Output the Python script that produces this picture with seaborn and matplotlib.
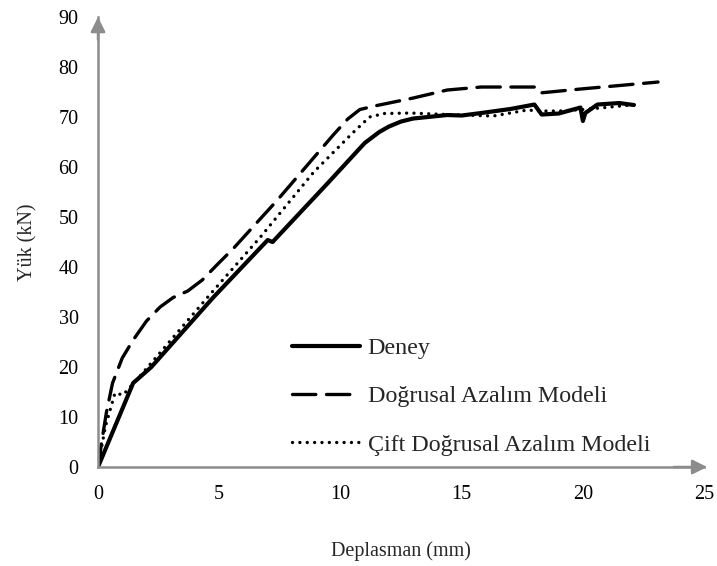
import matplotlib
matplotlib.use('Agg')
import matplotlib.pyplot as plt
import seaborn as sns

# Deney (experiment)
deney_x = [0, 1.45, 2.2, 4.75, 7.0, 7.2, 9.5, 11.0, 11.6, 12.0, 12.5, 13.0, 14.4, 15.0,
           15.8, 17.0, 18.0, 18.3, 19.0, 19.9, 20.0, 20.1, 20.6, 21.5, 22.1]
deney_y = [0, 16.8, 20.0, 33.9, 45.4, 45.0, 56.9, 64.8, 67.0, 68.1, 69.1, 69.7, 70.4, 70.3,
           70.8, 71.6, 72.5, 70.5, 70.7, 71.9, 69.2, 70.8, 72.5, 72.8, 72.4]

# Dogrusal Azalim Modeli
dogrusal_x = [0, 0.15, 0.35, 0.6, 1.0, 1.45, 2.0, 2.56, 3.1, 3.7, 4.3, 4.9, 5.6, 7.4, 9.7,
              10.3, 10.8, 11.4, 13.0, 14.4, 15.8, 18.0, 18.2, 19.9, 23.1]
dogrusal_y = [0, 5, 11, 16.8, 21.8, 25.4, 29.2, 32.0, 33.9, 35.2, 37.4, 40.4, 43.8, 53.4, 66.4,
              69.6, 71.5, 72.2, 73.8, 75.4, 76.0, 76.0, 74.8, 75.6, 77.0]

# Cift Dogrusal Azalim Modeli
cift_x = [0, 0.3, 0.7, 1.03, 1.7, 4.6, 6.7, 8.9, 10.5, 11.2, 11.8, 12.9, 14.4,
          16.3, 17.7, 18.3, 19.0, 20.0, 20.7, 22.4]
cift_y = [0, 8, 14.8, 14.4, 18.0, 34.4, 46.0, 59.0, 66.8, 70.0, 70.7, 70.8, 70.5,
          70.2, 71.4, 71.2, 71.2, 71.5, 71.8, 72.6]

labels = ["Deney", "Doğrusal Azalım Modeli", "Çift Doğrusal Azalım Modeli"]
x_ticks = [0, 5, 10, 15, 20, 25]
y_ticks = [0, 10, 20, 30, 40, 50, 60, 70, 80, 90]

sns.set_style("white")
plt.rcParams['font.family'] = ['Liberation Serif', 'DejaVu Serif']

axis_gray = '#8c8c8c'

fig = plt.figure(figsize=(7.17, 5.66), dpi=100)
ax = fig.add_axes([0.1367, 0.1749, 0.8453, 0.795])

sns.lineplot(x=deney_x, y=deney_y, ax=ax, color='black', lw=3.0, sort=False,
             estimator=None, label=labels[0], solid_capstyle='round',
             solid_joinstyle='round')
sns.lineplot(x=dogrusal_x, y=dogrusal_y, ax=ax, color='black', lw=2.4, sort=False,
             estimator=None, label=labels[1], dashes=(7.0, 3.2),
             dash_capstyle='round', dash_joinstyle='round')
sns.lineplot(x=cift_x, y=cift_y, ax=ax, color='black', lw=2.4, sort=False,
             estimator=None, label=labels[2], dashes=(0.01, 2.2),
             dash_capstyle='round')

ax.set_xlim(0, 25)
ax.set_ylim(0, 90)
ax.set_xticks(x_ticks)
ax.set_yticks(y_ticks)
ax.tick_params(axis='both', direction='out', length=4, width=1.5, color=axis_gray,
               labelsize=14.5, labelcolor='black')
ax.tick_params(axis='x', pad=9)
ax.tick_params(axis='y', pad=10)

for side in ['top', 'right']:
    ax.spines[side].set_visible(False)
for side in ['left', 'bottom']:
    ax.spines[side].set_color(axis_gray)
    ax.spines[side].set_linewidth(1.8)

# arrow heads on the axes
ax.annotate('', xy=(1.005, 0), xytext=(0.95, 0), xycoords='axes fraction',
            arrowprops=dict(arrowstyle='-|>', color=axis_gray, lw=1.8,
                            mutation_scale=22, shrinkA=0, shrinkB=0))
ax.annotate('', xy=(0, 1.0), xytext=(0, 0.95), xycoords='axes fraction',
            arrowprops=dict(arrowstyle='-|>', color=axis_gray, lw=1.8,
                            mutation_scale=22, shrinkA=0, shrinkB=0))

ax.set_xlabel("Deplasman (mm)", fontsize=14.5, labelpad=27)
ax.set_ylabel("Yük (kN)", fontsize=14.5, labelpad=15)

leg = ax.legend(loc='center left', bbox_to_anchor=(0.32, 0.157), frameon=False,
                fontsize=17.3, handlelength=2.85, handletextpad=0.3,
                labelspacing=1.1, borderpad=0, borderaxespad=0)

fig.savefig('out.png', dpi=100)
